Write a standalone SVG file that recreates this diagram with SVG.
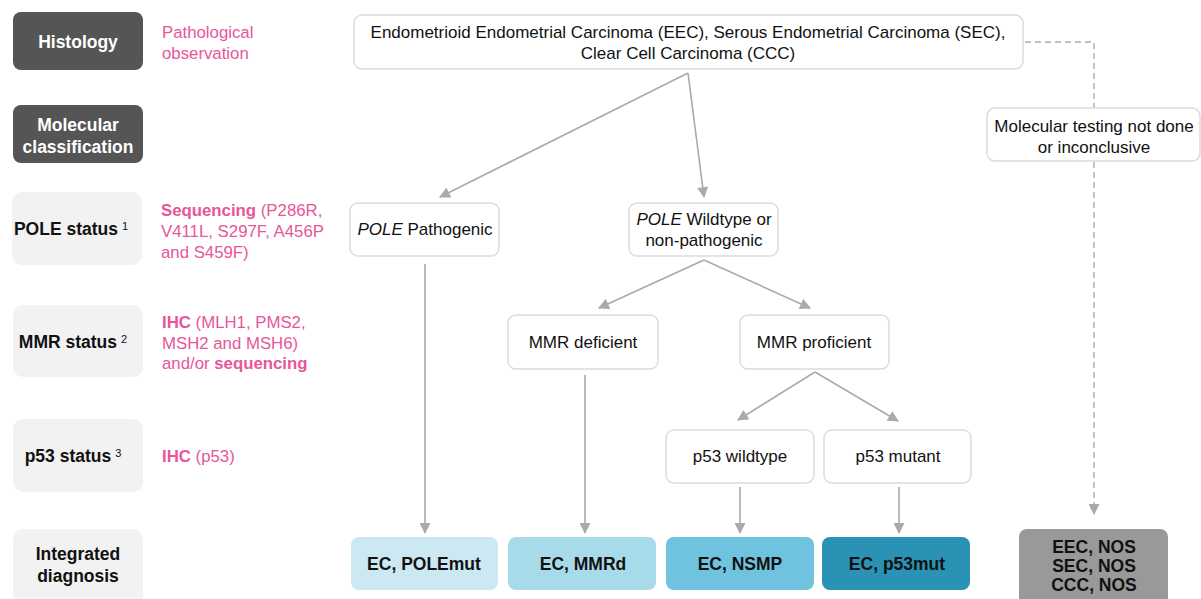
<svg xmlns="http://www.w3.org/2000/svg" width="1201" height="599" viewBox="0 0 1201 599">
<defs>
<style>
.t{font-family:"Liberation Sans",Arial,sans-serif;font-size:17px;fill:#111;text-anchor:middle}
.lb{font-family:"Liberation Sans",Arial,sans-serif;font-size:17.5px;font-weight:bold;text-anchor:middle}
.pk{font-family:"Liberation Sans",Arial,sans-serif;font-size:16.8px;fill:#e8559a}
.node{fill:#fff;stroke:#dcdcdc;stroke-width:1.5}
.dark{fill:#555555}
.light{fill:#f2f2f2}
.res{font-family:"Liberation Sans",Arial,sans-serif;font-size:17.5px;font-weight:bold;fill:#111;text-anchor:middle}
.c{stroke:#aaaaaa;stroke-width:1.6;fill:none}
.d{stroke:#aaaaaa;stroke-width:1.4;fill:none;stroke-dasharray:6,4}
</style>
<marker id="ah" viewBox="0 0 10 10" refX="9" refY="5" markerWidth="12" markerHeight="11" markerUnits="userSpaceOnUse" orient="auto"><path d="M0,0 L10,5 L0,10 Z" fill="#aaaaaa"/></marker>
</defs>
<rect width="1201" height="599" fill="#fff"/>

<g id="row-histology">
<rect class="dark" x="13" y="12" width="130" height="58" rx="8"/>
<text class="lb" x="78" y="48" fill="#fff" font-size="18.5">Histology</text>
<text class="pk" x="162" y="38">Pathological</text>
<text class="pk" x="162" y="59">observation</text>
</g>
<g id="row-molecular">
<rect class="dark" x="13" y="105" width="130" height="58" rx="8"/>
<text class="lb" x="78" y="131" fill="#fff">Molecular</text>
<text class="lb" x="78" y="153" fill="#fff">classification</text>
</g>
<g id="row-pole">
<rect class="light" x="12" y="192" width="130" height="73" rx="10"/>
<text class="lb" x="71" y="235" fill="#111">POLE status<tspan font-size="11" font-weight="normal" dx="4" dy="-5">1</tspan></text>
<text class="pk" x="161" y="216"><tspan font-weight="bold">Sequencing</tspan> (P286R,</text>
<text class="pk" x="161" y="237">V411L, S297F, A456P</text>
<text class="pk" x="161" y="258">and S459F)</text>
</g>
<g id="row-mmr">
<rect class="light" x="13" y="305" width="130" height="72" rx="10"/>
<text class="lb" x="73" y="348" fill="#111">MMR status<tspan font-size="11" font-weight="normal" dx="4" dy="-5">2</tspan></text>
<text class="pk" x="162" y="328"><tspan font-weight="bold">IHC</tspan> (MLH1, PMS2,</text>
<text class="pk" x="162" y="349">MSH2 and MSH6)</text>
<text class="pk" x="162" y="369">and/or <tspan font-weight="bold">sequencing</tspan></text>
</g>
<g id="row-p53">
<rect class="light" x="13" y="419" width="130" height="73" rx="10"/>
<text class="lb" x="73" y="462" fill="#111">p53 status<tspan font-size="11" font-weight="normal" dx="4" dy="-5">3</tspan></text>
<text class="pk" x="162" y="462"><tspan font-weight="bold">IHC</tspan> (p53)</text>
</g>
<g id="row-integrated">
<rect class="light" x="13" y="529" width="130" height="80" rx="10"/>
<text class="lb" x="78" y="560" fill="#111">Integrated</text>
<text class="lb" x="78" y="582" fill="#111">diagnosis</text>
</g>

<g id="connectors">
<line class="c" x1="688" y1="73" x2="440" y2="197" marker-end="url(#ah)"/>
<line class="c" x1="688" y1="73" x2="704" y2="197" marker-end="url(#ah)"/>
<line class="c" x1="704" y1="260" x2="599" y2="308" marker-end="url(#ah)"/>
<line class="c" x1="704" y1="260" x2="810" y2="308" marker-end="url(#ah)"/>
<line class="c" x1="815" y1="372" x2="738" y2="420" marker-end="url(#ah)"/>
<line class="c" x1="815" y1="372" x2="898" y2="421" marker-end="url(#ah)"/>
<line class="c" x1="425" y1="264" x2="425" y2="533" marker-end="url(#ah)"/>
<line class="c" x1="585" y1="375" x2="585" y2="533" marker-end="url(#ah)"/>
<line class="c" x1="740" y1="487" x2="740" y2="533" marker-end="url(#ah)"/>
<line class="c" x1="899" y1="487" x2="899" y2="533" marker-end="url(#ah)"/>
<polyline class="d" points="1025,42 1094,42 1094,108"/>
<line class="d" x1="1094" y1="162" x2="1094" y2="514" marker-end="url(#ah)"/>
</g>

<g id="n-histology">
<rect class="node" x="354" y="15" width="669" height="54" rx="8"/>
<text class="t" x="688" y="38">Endometrioid Endometrial Carcinoma (EEC), Serous Endometrial Carcinoma (SEC),</text>
<text class="t" x="688" y="59">Clear Cell Carcinoma (CCC)</text>
</g>
<g id="n-molecular-not-done">
<rect class="node" x="987" y="108" width="213" height="53" rx="8"/>
<text class="t" x="1094" y="132">Molecular testing not done</text>
<text class="t" x="1094" y="153">or inconclusive</text>
</g>
<g id="n-pole-path">
<rect class="node" x="350" y="203" width="149" height="53" rx="8"/>
<text class="t" x="425" y="235"><tspan font-style="italic">POLE</tspan> Pathogenic</text>
</g>
<g id="n-pole-wt">
<rect class="node" x="629" y="203" width="149" height="53" rx="8"/>
<text class="t" x="704" y="225"><tspan font-style="italic">POLE</tspan> Wildtype or</text>
<text class="t" x="704" y="246">non-pathogenic</text>
</g>
<g id="n-mmr-def">
<rect class="node" x="508" y="315" width="150" height="54" rx="8"/>
<text class="t" x="583" y="348">MMR deficient</text>
</g>
<g id="n-mmr-prof">
<rect class="node" x="740" y="315" width="149" height="54" rx="8"/>
<text class="t" x="814" y="348">MMR proficient</text>
</g>
<g id="n-p53-wt">
<rect class="node" x="666" y="430" width="148" height="53" rx="8"/>
<text class="t" x="740" y="462">p53 wildtype</text>
</g>
<g id="n-p53-mut">
<rect class="node" x="824" y="430" width="147" height="53" rx="8"/>
<text class="t" x="898" y="462">p53 mutant</text>
</g>
<g id="n-polemut">
<rect x="351" y="537" width="147" height="53" rx="8" fill="#cce8f2"/>
<text class="res" x="424" y="570">EC, POLEmut</text>
</g>
<g id="n-mmrd">
<rect x="508" y="537" width="148" height="53" rx="8" fill="#a8dbea"/>
<text class="res" x="583" y="570">EC, MMRd</text>
</g>
<g id="n-nsmp">
<rect x="666" y="537" width="148" height="53" rx="8" fill="#6fc3de"/>
<text class="res" x="740" y="570">EC, NSMP</text>
</g>
<g id="n-p53mut">
<rect x="822" y="537" width="148" height="53" rx="8" fill="#2a93b5"/>
<text class="res" x="897" y="570">EC, p53mut</text>
</g>
<g id="n-nos">
<rect x="1019" y="529" width="149" height="80" rx="8" fill="#999999"/>
<text class="res" x="1094" y="553" font-size="16.5">EEC, NOS</text>
<text class="res" x="1094" y="572" font-size="16.5">SEC, NOS</text>
<text class="res" x="1094" y="591" font-size="16.5">CCC, NOS</text>
</g>
</svg>
